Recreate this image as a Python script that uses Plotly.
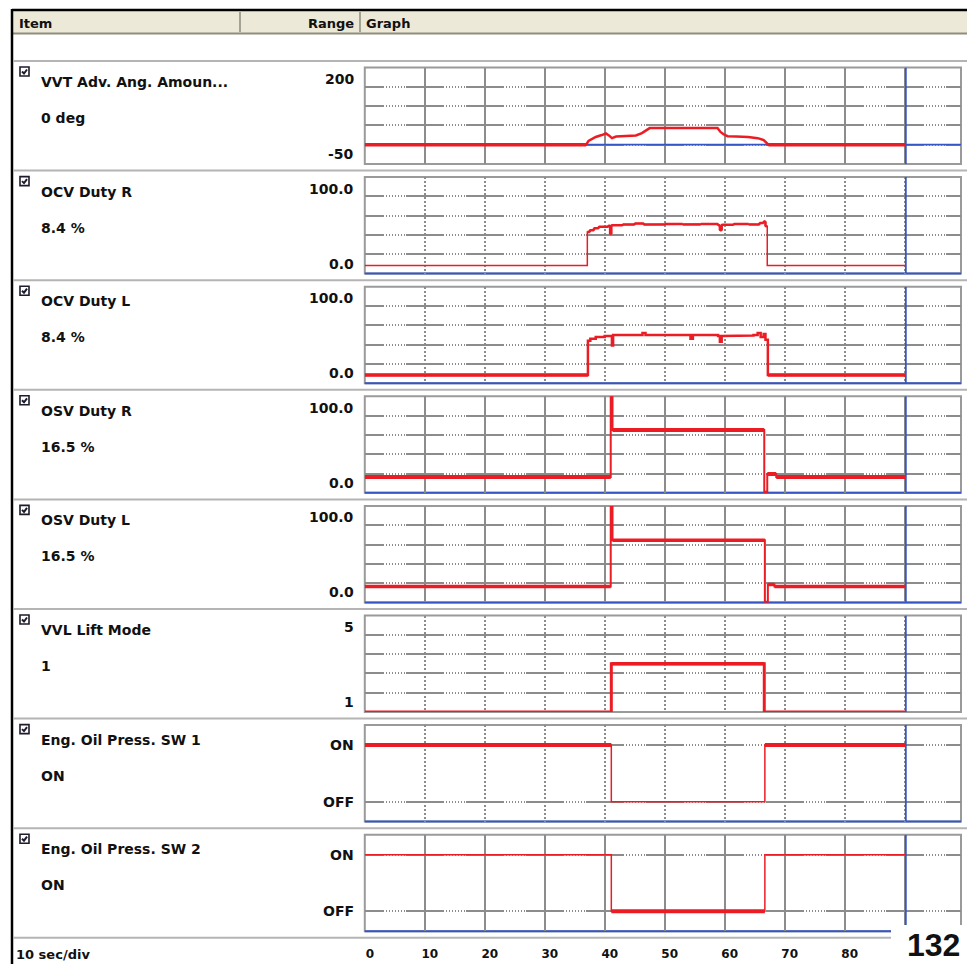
import plotly.graph_objects as go

# ---------------- recorded data ----------------
cursor_time = 90.2            # s, readout cursor position
window_end = 99.4             # s, right edge of the 10 sec/div window
time_ticks = [0, 10, 20, 30, 40, 50, 60, 70, 80, 90]
time_tick_text = ["0", "10", "20", "30", "40", "50", "60", "70", "80", ""]

item_names = [
    "VVT Adv. Ang. Amoun...",
    "OCV Duty R",
    "OCV Duty L",
    "OSV Duty R",
    "OSV Duty L",
    "VVL Lift Mode",
    "Eng. Oil Press. SW 1",
    "Eng. Oil Press. SW 2",
]

vvt_time = [0, 36.9, 37.3, 37.8, 38.5, 39.5, 40.2, 40.7, 41.2, 41.9, 43.9, 45.2,
            46.2, 46.9, 47.5, 58.8, 59.3, 59.8, 60.5, 61.9, 63.9, 65.5, 66.5, 67.3]
vvt_deg = [0, 0, 10, 15, 20, 25, 29, 24, 17, 21, 22, 24,
           30, 38, 43, 43, 33, 27, 22, 21, 20, 17, 12, 0]

ocv_r_time = [0, 37.1, 37.5, 38.2, 39.0, 40.6, 40.9, 41.1, 43.0, 45.0, 46.5, 50.0,
              53.0, 56.0, 58.9, 59.2, 59.5, 61.5, 64.0, 65.8, 66.5, 66.8, 67.1]
ocv_r_pct = [8.4, 43, 45, 47, 48.5, 49.5, 41, 50, 51, 52, 51, 51.5,
             51, 51.5, 50, 45, 50.5, 51.5, 51, 52.5, 54, 49, 8.4]

ocv_l_time = [0, 37.2, 37.6, 38.5, 40.0, 41.2, 41.4, 44.0, 46.3, 46.8, 50.0, 54.3,
              54.7, 58.9, 59.2, 59.5, 62.0, 64.8, 65.5, 66.0, 66.5, 66.8, 67.2]
ocv_l_pct = [8.4, 44, 46, 48, 49, 39, 50, 50, 52, 50, 50, 46,
             50, 49, 43, 49, 49.5, 50, 52, 48, 51, 45, 8.4]

osv_r_time = [0, 41.0, 41.3, 66.6, 67.1, 68.6]
osv_r_pct = [16.5, 100, 65, 0, 19.5, 16.5]

osv_l_time = [0, 41.0, 41.3, 66.7, 67.2, 68.3]
osv_l_pct = [16.5, 100, 64.5, 0, 18.5, 16.5]

vvl_time = [0, 41.1, 66.6]
vvl_mode = [1, 3, 1]

sw1_time = [0, 41.1, 66.7]
sw1_state = ["ON", "OFF", "ON"]

sw2_time = [0, 41.1, 66.7]
sw2_state = ["ON", "OFF", "ON"]

state_code = {"OFF": 0, "ON": 1}
state_name = {v: k for k, v in state_code.items()}

# ---------------- page geometry / styles ----------------
W, H = 967, 964


def fx(px):
    return px / W


def fy(py):
    return 1 - py / H


row_top0 = 61.0
row_pitch = 109.6
box_top_off, box_bot_off = 6.5, 103.0
box_left, box_right = 364.8, 961.0
switch_pad = 0.353            # headroom above ON / below OFF

RED = "#ec1c24"
BLUE = "#3556c4"
GRID = "#8c8c8c"
FRAME = "#9a9a9a"
SEP = "#b4b4b4"
INK = "#111111"
FONT = "DejaVu Sans"

# dotted runs between the divisions, solid runs across each division line
hgrid_dash = "19px,2px," + "1px,2px," * 6 + "1px,1px,19px,0px"


def step_path(t, v, t_end):
    xs, ys = [], []
    for i in range(len(t)):
        t1 = t[i + 1] if i + 1 < len(t) else t_end
        xs += [t[i], t1]
        ys += [v[i], v[i]]
    return xs, ys


def linear_path(t, v, t_end):
    return list(t) + [t_end], list(v) + [v[-1]]


def masked(xs, ys, keep):
    ox, oy = [], []
    for i in range(len(xs) - 1):
        if keep(ys[i], ys[i + 1]):
            ox += [xs[i], xs[i + 1], None]
            oy += [ys[i], ys[i + 1], None]
    return ox, oy


def checkbox(x, y, size=9):
    """Small ticked checkbox drawn as two paper shapes (frame + tick)."""
    x0, y0, x1, y1 = x, y, x + size, y + size
    tick = (f"M {fx(x0 + 2)},{fy(y0 + 4.5)} L {fx(x0 + 4)},{fy(y0 + 6.5)} "
            f"L {fx(x0 + 7)},{fy(y0 + 2.5)}")
    return [
        dict(type="rect", xref="paper", yref="paper", x0=fx(x0), x1=fx(x1), y0=fy(y1), y1=fy(y0),
             fillcolor="white", line=dict(color="#1c1c2c", width=1.6), layer="below"),
        dict(type="path", xref="paper", yref="paper", path=tick,
             line=dict(color="#1c1c2c", width=2), layer="below"),
    ]


sw1_code = [state_code[s] for s in sw1_state]
sw2_code = [state_code[s] for s in sw2_state]

panels = [
    dict(t=vvt_time, v=vvt_deg, path=linear_path, yr=(-50, 200), grid=[0, 50, 100, 150],
         lab="{:.0f}", read="{:.0f} deg", vdash="solid", base=2.5, thick=3.5,
         keep=lambda a, b: a == 0 and b == 0, blue="zero"),
    dict(t=ocv_r_time, v=ocv_r_pct, path=step_path, yr=(0, 100), grid=[20, 40, 60, 80],
         lab="{:.1f}", read="{:.1f} %", vdash="2px,2px", base=1.5, thick=2.5,
         keep=lambda a, b: a > 20 and b > 20, blue="edge"),
    dict(t=ocv_l_time, v=ocv_l_pct, path=step_path, yr=(0, 100), grid=[20, 40, 60, 80],
         lab="{:.1f}", read="{:.1f} %", vdash="2px,2px", base=2.5, thick=3.5,
         keep=lambda a, b: a < 20 and b < 20, blue="edge"),
    dict(t=osv_r_time, v=osv_r_pct, path=step_path, yr=(0, 100), grid=[20, 40, 60, 80],
         lab="{:.1f}", read="{:.1f} %", vdash="solid", base=2.0, thick=4.0,
         keep=lambda a, b: a == b, blue="edge"),
    dict(t=osv_l_time, v=osv_l_pct, path=step_path, yr=(0, 100), grid=[20, 40, 60, 80],
         lab="{:.1f}", read="{:.1f} %", vdash="solid", base=2.0, thick=3.5,
         keep=lambda a, b: a == b, blue="edge"),
    dict(t=vvl_time, v=vvl_mode, path=step_path, yr=(1, 5), grid=[1.8, 2.6, 3.4, 4.2],
         lab="{:.0f}", read="{:.0f}", vdash="2px,2px", base=3.0, thick=3.5,
         keep=lambda a, b: a == b and a > 1, blue=None),
    dict(t=sw1_time, v=sw1_code, path=step_path, yr=(-switch_pad, 1 + switch_pad), grid=[0, 1],
         lab=None, read=None, vdash="2px,2px", base=1.5, thick=4.0,
         keep=lambda a, b: a == 1 and b == 1, blue="edge"),
    dict(t=sw2_time, v=sw2_code, path=step_path, yr=(-switch_pad, 1 + switch_pad), grid=[0, 1],
         lab=None, read=None, vdash="solid", base=1.5, thick=4.0,
         keep=lambda a, b: a == 0 and b == 0, blue="edge"),
]

fig = go.Figure()
shapes = []
annotations = []
layout_axes = {}

# ---------------- frame: header, borders, row separators ----------------
shapes.append(dict(type="rect", xref="paper", yref="paper", x0=fx(13), x1=fx(W + 2),
                   y0=fy(33), y1=fy(11), fillcolor="#ece9d8", line=dict(width=0), layer="below"))
shapes.append(dict(type="line", xref="paper", yref="paper", x0=fx(13), x1=fx(W + 2),
                   y0=fy(33.5), y1=fy(33.5), line=dict(color="#8f8e7e", width=2), layer="below"))
for xd in (240, 360):
    shapes.append(dict(type="line", xref="paper", yref="paper", x0=fx(xd), x1=fx(xd),
                       y0=fy(32), y1=fy(12), line=dict(color="#a3a293", width=2), layer="below"))
shapes.append(dict(type="line", xref="paper", yref="paper", x0=fx(12), x1=fx(W + 2),
                   y0=fy(10), y1=fy(10), line=dict(color="#000000", width=2.5), layer="below"))
shapes.append(dict(type="line", xref="paper", yref="paper", x0=fx(12), x1=fx(12),
                   y0=fy(H + 2), y1=fy(9), line=dict(color="#000000", width=2.5), layer="below"))
for k in range(len(panels) + 1):
    ys = row_top0 + row_pitch * k
    shapes.append(dict(type="line", xref="paper", yref="paper", x0=fx(13), x1=fx(W + 2),
                       y0=fy(ys), y1=fy(ys), line=dict(color=SEP, width=2), layer="below"))

head_font = dict(family=FONT, size=13, color=INK, weight="bold")
annotations += [
    dict(text="Item", x=fx(17), y=fy(23), xanchor="left", yanchor="middle", font=head_font),
    dict(text="Range", x=fx(356), y=fy(23), xanchor="right", yanchor="middle", font=head_font),
    dict(text="Graph", x=fx(364), y=fy(23), xanchor="left", yanchor="middle", font=head_font),
]

text_font = dict(family=FONT, size=14, color=INK, weight="bold")

# ---------------- panels ----------------
for k, p in enumerate(panels):
    n = k + 1
    xa = "xaxis" if n == 1 else f"xaxis{n}"
    ya = "yaxis" if n == 1 else f"yaxis{n}"
    xr = "x" if n == 1 else f"x{n}"
    yr_ = "y" if n == 1 else f"y{n}"
    s = row_top0 + row_pitch * k
    top, bot = s + box_top_off, s + box_bot_off
    lo, hi = p["yr"]

    layout_axes[xa] = dict(domain=[fx(box_left), fx(box_right)], anchor=yr_, range=[0, window_end],
                           tickvals=time_ticks, ticktext=time_tick_text, showgrid=True,
                           gridcolor=GRID, gridwidth=1.5, griddash=p["vdash"], zeroline=False,
                           showline=False, ticks="", showticklabels=(n == len(panels)),
                           fixedrange=True)
    layout_axes[ya] = dict(domain=[fy(bot), fy(top)], anchor=xr, range=[lo, hi],
                           tickvals=p["grid"], showgrid=True, gridcolor=GRID, gridwidth=1.5,
                           griddash=hgrid_dash, zeroline=False, showline=False, ticks="",
                           showticklabels=False, fixedrange=True)

    # box frame
    shapes.append(dict(type="rect", xref="paper", yref="paper", x0=fx(box_left), x1=fx(box_right),
                       y0=fy(bot), y1=fy(top), line=dict(color=FRAME, width=2), layer="below"))
    if p["blue"] == "edge":
        shapes.append(dict(type="line", xref="paper", yref="paper", x0=fx(box_left), x1=fx(box_right),
                           y0=fy(bot), y1=fy(bot), line=dict(color=BLUE, width=2), layer="below"))

    # blue cursor (and zero line)
    bx = [cursor_time, cursor_time]
    by = [lo, hi]
    if p["blue"] == "zero":
        bx += [None, 0, window_end]
        by += [None, 0, 0]
    fig.add_trace(go.Scatter(x=bx, y=by, mode="lines", line=dict(color=BLUE, width=1.8),
                             xaxis=xr, yaxis=yr_, hoverinfo="skip"))

    # recorded signal
    xs, ys = p["path"](p["t"], p["v"], cursor_time)
    fig.add_trace(go.Scatter(x=xs, y=ys, mode="lines", line=dict(color=RED, width=p["base"]),
                             xaxis=xr, yaxis=yr_, hoverinfo="skip"))
    ox, oy = masked(xs, ys, p["keep"])
    if ox:
        fig.add_trace(go.Scatter(x=ox, y=oy, mode="lines", line=dict(color=RED, width=p["thick"]),
                                 xaxis=xr, yaxis=yr_, hoverinfo="skip", connectgaps=False))

    # item column
    shapes += checkbox(20, s + 6)
    current = [v for t, v in zip(p["t"], p["v"]) if t <= cursor_time][-1]
    readout = state_name[current] if p["read"] is None else p["read"].format(current)
    annotations += [
        dict(text=item_names[k], x=fx(39), y=fy(s + 21), xanchor="left", yanchor="middle", font=text_font),
        dict(text=readout, x=fx(39), y=fy(s + 57), xanchor="left", yanchor="middle", font=text_font),
    ]

    # range column
    if p["lab"] is not None:
        annotations += [
            dict(text=p["lab"].format(hi), x=fx(356), y=fy(s + 18), xanchor="right", yanchor="middle",
                 font=text_font),
            dict(text=p["lab"].format(lo), x=fx(356), y=fy(s + 93), xanchor="right", yanchor="middle",
                 font=text_font),
        ]
    else:
        for name, code in state_code.items():
            annotations.append(dict(text=name, x=fx(356), xref="paper", y=code, yref=yr_,
                                    xanchor="right", yanchor="middle", font=text_font))

# bottom time scale
last_x = "xaxis" if len(panels) == 1 else f"xaxis{len(panels)}"
layout_axes[last_x].update(tickfont=dict(family=FONT, size=12, color=INK, weight="bold"),
                           ticklabelstandoff=14, ticklabelshift=5)
annotations.append(dict(text="10 sec/div", x=fx(14), y=fy(954), xanchor="left", yanchor="middle",
                        font=dict(family=FONT, size=13, color=INK, weight="bold")))

# page number
shapes.append(dict(type="rect", xref="paper", yref="paper", x0=fx(891), x1=fx(W + 2),
                   y0=fy(H + 2), y1=fy(925), fillcolor="white", line=dict(width=0), layer="above"))
annotations.append(dict(text="132", x=fx(933), y=fy(945), xanchor="center", yanchor="middle",
                        font=dict(family="Liberation Sans", size=32, color=INK, weight="bold")))

for a in annotations:
    a.setdefault("xref", "paper")
    a.setdefault("yref", "paper")
    a.setdefault("showarrow", False)

fig.update_layout(
    width=W, height=H,
    margin=dict(l=0, r=0, t=0, b=0),
    paper_bgcolor="white",
    plot_bgcolor="rgba(0,0,0,0)",
    showlegend=False,
    shapes=shapes,
    annotations=annotations,
    **layout_axes,
)

fig.write_html("out.html")
